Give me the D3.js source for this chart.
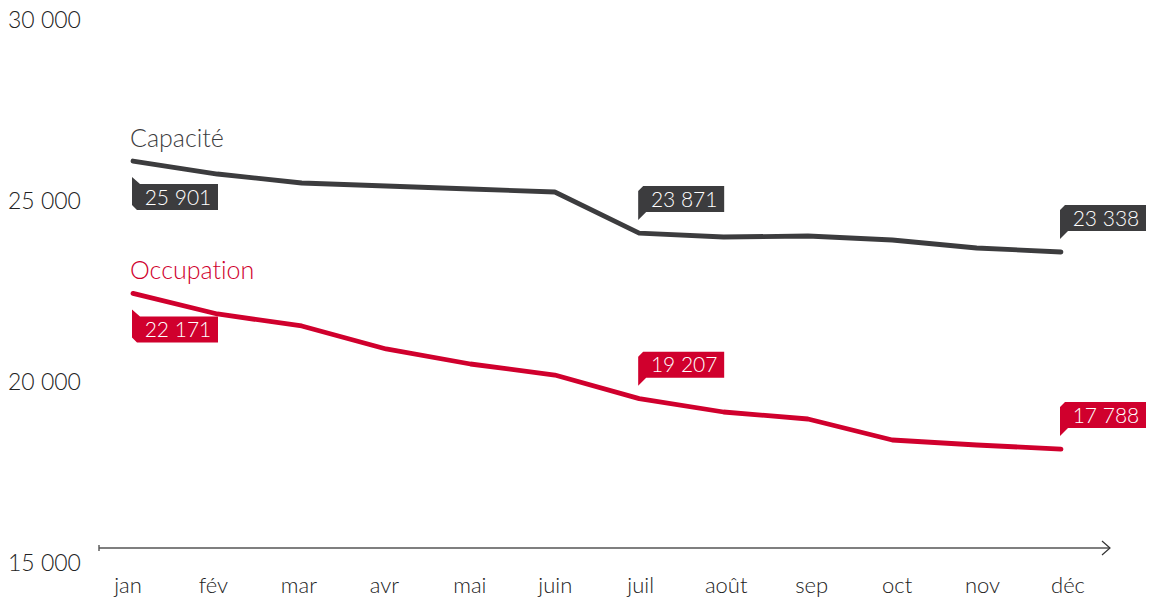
<!DOCTYPE html>
<html>
<head>
<meta charset="utf-8">
<script src="https://cdn.jsdelivr.net/npm/d3@7"></script>
<style>
  body { margin: 0; background: #fff; }
  svg { display: block; }
  text { font-family: Lato, "Noto Sans", sans-serif; font-variant-ligatures: none; }
</style>
</head>
<body>
<svg id="chart" width="1164" height="602"></svg>
<script>
'use strict';

const months = ['jan', 'fév', 'mar', 'avr', 'mai', 'juin', 'juil', 'août', 'sep', 'oct', 'nov', 'déc'];
const capacite = [25901, 25535, 25282, 25197, 25113, 25028, 23871, 23761, 23789, 23676, 23451, 23338];
const occupation = [22171, 21592, 21254, 20606, 20183, 19873, 19207, 18831, 18634, 18042, 17901, 17788];
const yTicks = [15000, 20000, 25000, 30000];
// which points get a value callout, and whether it sits below or above the line
const callouts = [{ i: 0, below: true }, { i: 6, below: false }, { i: 11, below: false }];

const DARK = '#3c3c3e', RED = '#d0002d', AXIS = '#555';

const svg = d3.select('#chart');

const x = d3.scalePoint().domain(months).range([133, 1061]);
const xLabel = d3.scalePoint().domain(months).range([128, 1068]);
const y = d3.scaleLinear().domain([15000, 30000]).range([548, 15.5]);
const yLabel = d3.scaleLinear().domain([15000, 30000]).range([563, 20]);

const fmt = v => d3.format(',')(v).replace(/,/g, ' ');

// y tick labels
svg.append('g').selectAll('text').data(yTicks).enter().append('text')
  .attr('x', 8).attr('y', d => yLabel(d))
  .attr('dy', '0.36em')
  .style('font-size', '23px').style('font-weight', 300).style('fill', '#222')
  .text(fmt);

// x axis with arrow
const axis = svg.append('g');
axis.append('line')
  .attr('x1', 99).attr('x2', 1110).attr('y1', y(15000)).attr('y2', y(15000))
  .style('stroke', AXIS).style('stroke-width', 1.4);
axis.append('line')
  .attr('x1', 99).attr('x2', 99).attr('y1', y(15000) - 3).attr('y2', y(15000) + 3)
  .style('stroke', AXIS).style('stroke-width', 1.4);
axis.append('path')
  .attr('d', `M1102,${y(15000) - 7} L1110,${y(15000)} L1102,${y(15000) + 7}`)
  .style('fill', 'none').style('stroke', '#333').style('stroke-width', 1.2);

axis.selectAll('text').data(months).enter().append('text')
  .attr('x', d => xLabel(d)).attr('y', 593)
  .attr('text-anchor', 'middle')
  .style('font-size', '22px').style('font-weight', 300).style('fill', '#222')
  .text(d => d);

const line = d3.line().x((d, i) => x(months[i])).y(d => y(d));

function drawSeries(values, color, name) {
  const g = svg.append('g');
  g.append('path').datum(values)
    .attr('d', line)
    .style('fill', 'none').style('stroke', color)
    .style('stroke-width', 4.8).style('stroke-linecap', 'round').style('stroke-linejoin', 'round');

  g.append('text')
    .attr('x', 130).attr('y', y(values[0]) - 14)
    .style('font-size', '25px').style('font-weight', 300).style('fill', color)
    .text(name);

  const w = 86, h = 26;
  callouts.forEach(c => {
    const px = x(months[c.i]) - 1, py = y(values[c.i]);
    let d;
    if (c.below) {
      const tip = py + 16, top = tip + 7;
      d = `M${px},${tip} L${px + 8},${top} L${px + w},${top} L${px + w},${top + h} L${px + 5},${top + h} L${px},${top + h - 5} Z`;
    } else {
      const tip = py - 13, bot = tip - 8;
      d = `M${px},${tip} L${px},${bot - h + 5} L${px + 5},${bot - h} L${px + w},${bot - h} L${px + w},${bot} L${px + 8},${bot} Z`;
    }
    g.append('path').attr('d', d).style('fill', color);
    const cy = c.below ? py + 23 + h / 2 : py - 21 - h / 2;
    g.append('text')
      .attr('x', px + w / 2 + 3).attr('y', cy).attr('dy', '0.36em')
      .attr('text-anchor', 'middle')
      .style('font-size', '21px').style('font-weight', 300).style('fill', '#fff')
      .text(fmt(values[c.i]));
  });
}

drawSeries(capacite, DARK, 'Capacité');
drawSeries(occupation, RED, 'Occupation');
</script>
</body>
</html>
